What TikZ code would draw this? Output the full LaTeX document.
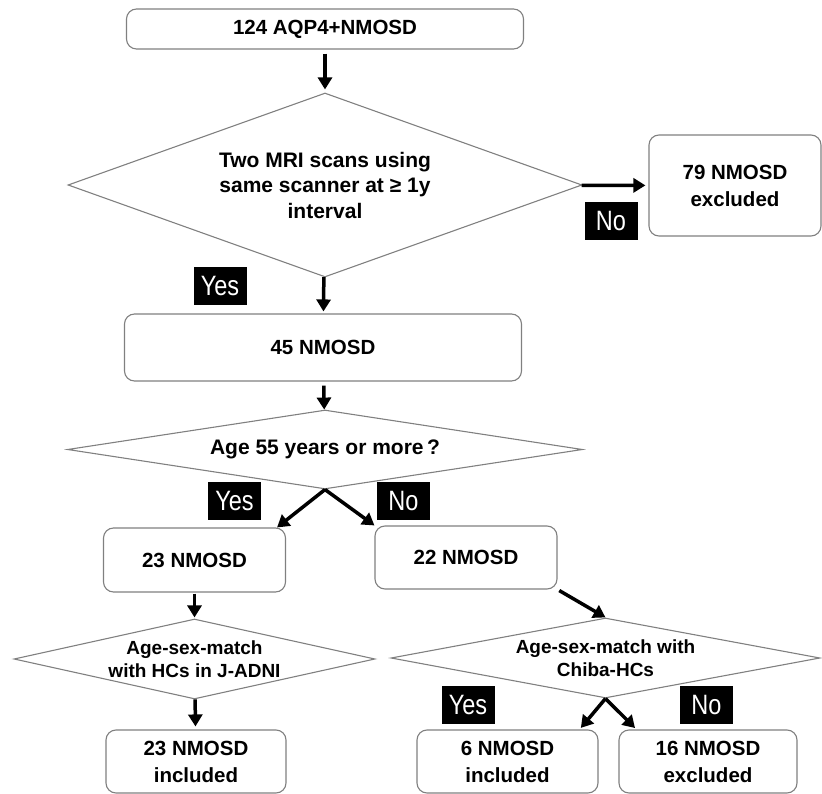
\documentclass[tikz,border=0pt]{standalone}
\usepackage{fontspec}
\setmainfont{Liberation Sans}
\newfontfamily\yesnofont[FakeStretch=0.84]{Liberation Sans}
\usetikzlibrary{shapes.geometric}
\usetikzlibrary{arrows.meta}

\begin{document}
\begin{tikzpicture}[x=1pt,y=-1pt,
  box/.style={draw=gray,line width=1.1pt,rounded corners=10pt,align=center,inner sep=0pt,
    font=\bfseries\fontsize{20.5}{27}\selectfont},
  dia/.style={diamond,draw=gray,line width=1.1pt,align=center,inner sep=-40pt,shape aspect=2,
    font=\bfseries\fontsize{21}{25.5}\selectfont},
  smalldia/.style={dia,font=\bfseries\fontsize{19}{22.5}\selectfont},
  yesno/.style={fill=black,text=white,inner sep=0pt,minimum width=53pt,minimum height=38pt,
    font=\yesnofont\fontsize{28}{28}\selectfont},
  arr/.style={line width=3.5pt,-{Triangle[length=12pt,width=14pt]}}]
\useasboundingbox (0,0) rectangle (822,794);
% boxes and questions
\node[box,minimum width=397pt,minimum height=40pt] (top) at (325,29) {124 AQP4+NMOSD};
\node[dia,minimum width=514pt,minimum height=184pt] (d1) at (325,185)
  {Two MRI scans using\\ same scanner at ≥ 1y\\ interval};
\node[box,minimum width=172pt,minimum height=101pt] (exc79) at (735,185.5) {79 NMOSD\\ excluded};
\node[box,minimum width=397pt,minimum height=67pt] (n45) at (323,347.5) {45 NMOSD};
\node[dia,minimum width=515pt,minimum height=79pt] (d2) at (325,449.5) {Age 55 years or more\,?};
\node[box,minimum width=182pt,minimum height=64pt] (n23) at (194.5,560) {23 NMOSD};
\node[box,minimum width=182pt,minimum height=63pt] (n22) at (466,557.5) {22 NMOSD};
\node[smalldia,minimum width=361pt,minimum height=80pt] (d3) at (194.5,659)
  {Age-sex-match\\ with HCs in J-ADNI};
\node[box,minimum width=180pt,minimum height=63pt] (inc23) at (196,761.5) {23 NMOSD\\ included};
\node[smalldia,minimum width=429pt,minimum height=80pt] (d4) at (605.5,658)
  {Age-sex-match with\\ Chiba-HCs};
\node[box,minimum width=181pt,minimum height=63pt] (inc6) at (507.5,761.5) {6 NMOSD\\ included};
\node[box,minimum width=178pt,minimum height=63pt] (exc16) at (708,761.5) {16 NMOSD\\ excluded};
% yes / no tags
\node[yesno] (no1) at (611,221.5) {No};
\node[yesno] (yes1) at (220,286.5) {Yes};
\node[yesno] (yes2) at (234.5,501) {Yes};
\node[yesno] (no2) at (403.5,501) {No};
\node[yesno] (yes4) at (468,705) {Yes};
\node[yesno] (no4) at (706.5,705) {No};
% arrows
\draw[arr,shorten <=4pt,shorten >=3pt] (top) -- (d1);
\draw[arr,shorten >=3pt] (d1) -- (exc79);
\draw[arr,shorten >=2pt] (d1) -- (n45);
\draw[arr,shorten <=4pt] (n45) -- (d2);
\draw[arr] (d2.south) -- ([xshift=-9pt]n23.north east);
\draw[arr] (d2.south) -- (n22.north west);
\draw[arr,shorten <=1pt,shorten >=1pt] (n23) -- (d3);
\draw[arr,shorten >=3pt] (d3) -- (inc23);
\draw[arr,shorten <=2pt] (n22.south east) -- (d4.north);
\draw[arr,shorten >=2pt] (d4.south) -- ([xshift=-19pt]inc6.north east);
\draw[arr,shorten >=2pt] (d4.south) -- ([xshift=18pt]exc16.north west);
\end{tikzpicture}
\end{document}
